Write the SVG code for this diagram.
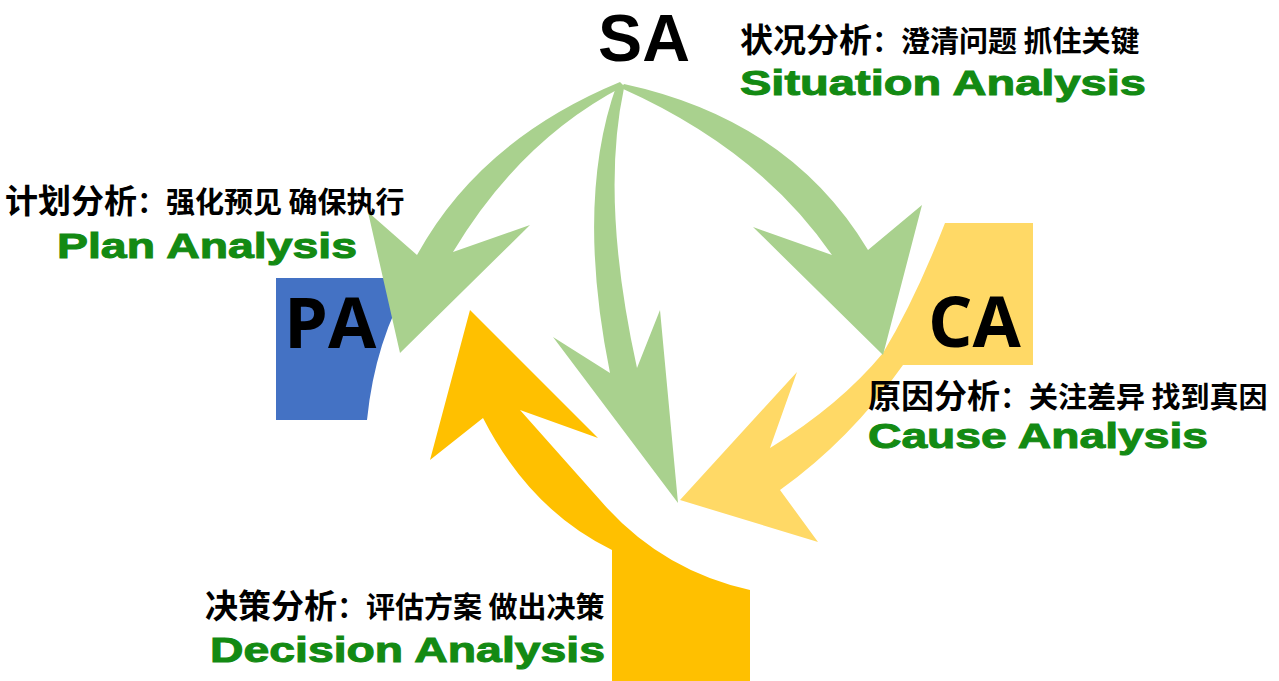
<svg xmlns="http://www.w3.org/2000/svg" width="1279" height="681" viewBox="0 0 1279 681">
<style>
.big{font-family:"Open Sans","Noto Sans",sans-serif;font-weight:700;font-size:70px;fill:#000}
.sa{font-family:"Liberation Sans",Arial,sans-serif;font-weight:700;font-size:66px;fill:#000}
.cn{font-family:"Noto Sans CJK SC",sans-serif;font-weight:700;fill:#000}
.en{font-family:"Liberation Sans",Arial,sans-serif;font-weight:700;font-size:35px;fill:#138A13;stroke:#138A13;stroke-width:1}
.g{fill:#A9D18E}
</style>
<rect width="1279" height="681" fill="#fff"/>
<g id="PA">
<path d="M276,278 L412,278 Q375,340 367,420 L276,420 Z" fill="#4472C4"/>
<text class="big" x="284" y="348">PA</text>
</g>
<g id="CA">
<path d="M945,223 L1033,223 L1033,365 L903,365 Q850,440 780,490 L818,542 L680,500 L797,372 L770,448 Q840,405 883,353 Q915,300 945,223 Z" fill="#FFD966"/>
<text class="big" x="928" y="347">CA</text>
</g>
<g id="DA">
<path d="M612,681 L750,681 L750,590 Q660,570 600,500 Q560,455 520,410 L598,438 L470,310 L430,460 L483,418 Q530,510 612,550 Z" fill="#FFC000"/>
</g>
<g id="SA">
<text class="sa" x="598" y="61" textLength="92" lengthAdjust="spacingAndGlyphs">SA</text>
</g>
<g id="connectors">
<path class="g" d="M620,82 Q480,140 417,255 L368,212 L400,353 L530,225 L453,252 Q520,140 624,86 Z"/>
<path class="g" d="M617,84 Q575,200 610,373 L553,337 L678,503 L660,310 L637,368 Q600,200 624,88 Z"/>
<path class="g" d="M624,84 Q790,120 868,250 L922,205 L883,355 L753,227 L832,255 Q760,150 621,88 Z"/>
</g>
<g id="labels">
<text class="cn" x="740" y="52"><tspan font-size="33">状况分析</tspan><tspan font-size="29">：澄清问题 抓住关键</tspan></text>
<text class="en" x="740" y="95" textLength="406" lengthAdjust="spacingAndGlyphs">Situation Analysis</text>
<text class="cn" x="5" y="213"><tspan font-size="33">计划分析</tspan><tspan font-size="29">：强化预见 确保执行</tspan></text>
<text class="en" x="57" y="258" textLength="300" lengthAdjust="spacingAndGlyphs">Plan Analysis</text>
<text class="cn" x="868" y="408"><tspan font-size="33">原因分析</tspan><tspan font-size="29">：关注差异 找到真因</tspan></text>
<text class="en" x="868" y="448" textLength="340" lengthAdjust="spacingAndGlyphs">Cause Analysis</text>
<text class="cn" x="205" y="618"><tspan font-size="33">决策分析</tspan><tspan font-size="29">：评估方案 做出决策</tspan></text>
<text class="en" x="210" y="662" textLength="395" lengthAdjust="spacingAndGlyphs">Decision Analysis</text>
</g>
</svg>
